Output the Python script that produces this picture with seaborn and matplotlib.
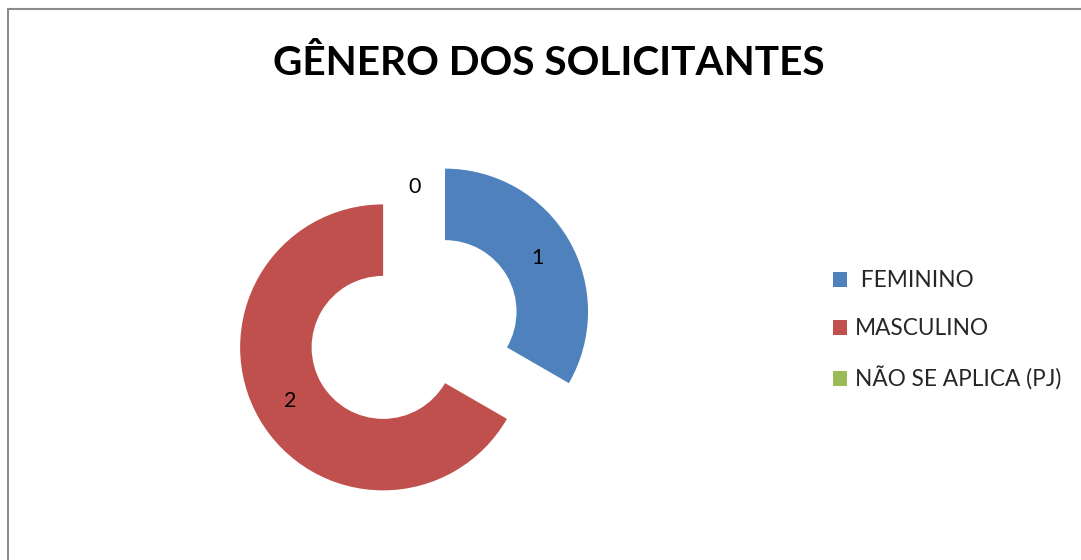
import numpy as np
import matplotlib
matplotlib.use("Agg")
from matplotlib import pyplot as plt
from matplotlib.patches import Rectangle
import seaborn as sns

# dados
categorias = [" FEMININO", "MASCULINO", "NÃO SE APLICA (PJ)"]
valores = [1, 2, 0]
cores = ["#4F81BD", "#C0504D", "#9BBB59"]
titulo = "GÊNERO DOS SOLICITANTES"

sns.set_theme(style="white")
plt.rcParams['font.family'] = ['Lato', 'DejaVu Sans']

fig = plt.figure(figsize=(10.81, 5.6), dpi=100)
ax = fig.add_axes([0.1846, 0.0286, 0.3969, 0.766])

wedges, _ = ax.pie(valores, colors=cores, startangle=90, counterclock=False,
                   explode=[0.25, 0.25, 0], radius=1,
                   wedgeprops=dict(width=0.5, linewidth=0))
ax.set_xlim(-1.5, 1.5)
ax.set_ylim(-1.5, 1.5)
ax.set_aspect("equal")
ax.axis("off")

# rótulos dos valores
for w, v in zip(wedges, valores):
    ang = np.deg2rad((w.theta1 + w.theta2) / 2)
    r = 0.75 if v > 0 else 1.0
    cx, cy = w.center
    ax.text(cx + r * np.cos(ang), cy + r * np.sin(ang), str(v),
            ha="center", va="center", fontsize=15.5, color="black")

fig.text(0.508, 0.886, titulo, ha="center", va="center",
         fontsize=29.2, fontweight="bold", color="black")

ax.legend(wedges, categorias, loc="center left",
          bbox_to_anchor=(0.752, 0.41), bbox_transform=fig.transFigure,
          frameon=False, fontsize=16.3, handlelength=0.62, handleheight=0.62,
          handletextpad=0.33, labelspacing=1.2)

# moldura
fig.patches.append(Rectangle((8 / 1081, -0.1), 1.2, 1 - 9 / 560 + 0.1,
                             transform=fig.transFigure, fill=False,
                             edgecolor="#8c8c8c", linewidth=1.5))

plt.savefig("out.png", dpi=100)
